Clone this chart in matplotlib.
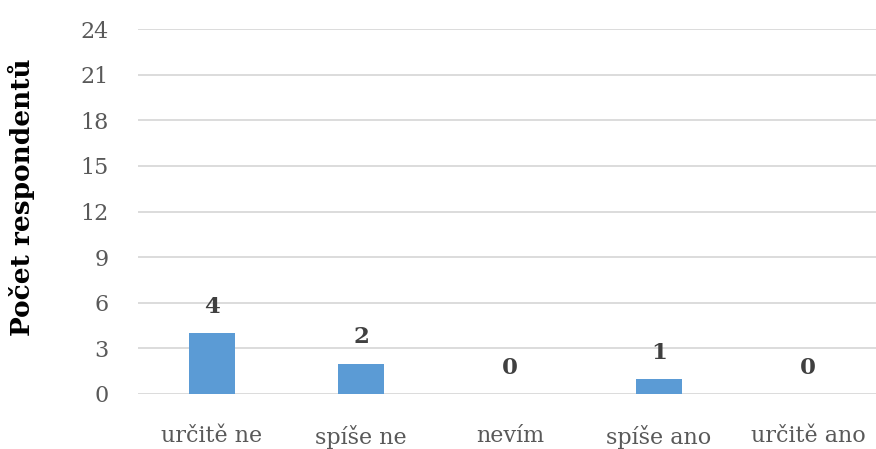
import matplotlib
matplotlib.use("Agg")
import matplotlib.pyplot as plt

categories = ["určitě ne", "spíše ne", "nevím", "spíše ano", "určitě ano"]
counts = [4, 2, 0, 1, 0]
yticks = [0, 3, 6, 9, 12, 15, 18, 21, 24]

plt.rcParams['font.family'] = ['DejaVu Serif']

fig = plt.figure(figsize=(8.76, 4.49), dpi=100)
ax = fig.add_axes([137.5 / 876, 1 - 394 / 449, 745 / 876, 365 / 449])

x = range(len(categories))
ax.bar(x, counts, width=0.315, color='#5b9bd5', zorder=3)
for xi, v in zip(x, counts):
    ax.annotate(str(v), (xi, v), xytext=(0, 11), textcoords='offset points',
                ha='center', va='bottom', fontsize=16.5, fontweight='bold',
                color='#404040')

ax.set_xlim(-0.5, len(categories) - 0.5)
ax.set_ylim(0, 24)
ax.set_yticks(yticks)
ax.set_xticks(list(x))
ax.set_xticklabels(categories)
ax.yaxis.grid(True, color='#d9d9d9', linewidth=1.3, zorder=0)
ax.tick_params(axis='both', length=0, labelsize=16, colors='#595959')
ax.tick_params(axis='y', pad=21)
ax.tick_params(axis='x', pad=22)
for s in ax.spines.values():
    s.set_visible(False)
ax.set_ylabel("Počet respondentů", fontsize=19, fontweight='bold', color='black',
              va='center')
ax.yaxis.set_label_coords(-0.156, 0.538)

fig.savefig("out.png", dpi=100)
